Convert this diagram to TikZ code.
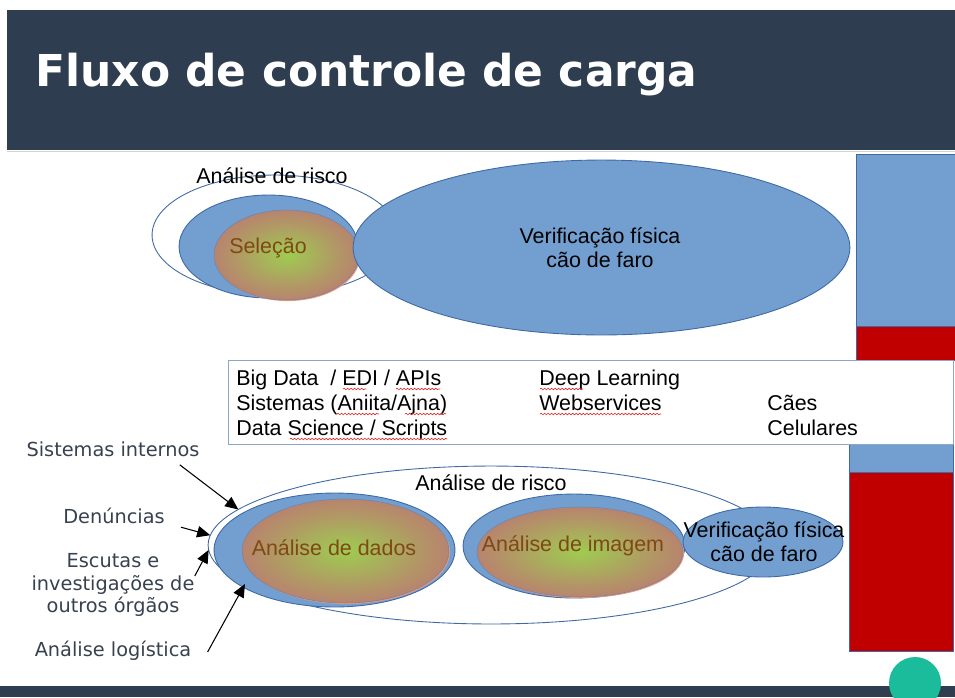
\documentclass[tikz,border=0pt]{standalone}
\usepackage{fontspec}
\setmainfont{Liberation Sans}
\newfontfamily\djv{DejaVu Sans}
\usetikzlibrary{shapes.geometric,arrows.meta,shadows,decorations.pathmorphing}
\definecolor{barcol}{RGB}{46,62,80}
\definecolor{lofill}{RGB}{114,159,207}
\definecolor{loline}{RGB}{62,105,165}
\definecolor{lored}{RGB}{192,0,0}
\definecolor{labcol}{RGB}{55,65,80}
\definecolor{gradin}{RGB}{158,204,80}
\definecolor{gradmid}{RGB}{178,150,102}
\definecolor{gradout}{RGB}{192,106,122}
\definecolor{gradtxt}{RGB}{128,72,22}
\definecolor{glowrim}{RGB}{240,150,110}
\definecolor{tealdot}{RGB}{26,188,156}
\definecolor{boxline}{RGB}{140,165,200}
\definecolor{spellred}{RGB}{230,40,40}
\pgfdeclareradialshading{cellglow}{\pgfpoint{0bp}{0bp}}{color(0bp)=(gradin); color(18bp)=(gradmid); color(35bp)=(gradout); color(100bp)=(gradout)}
\tikzset{
  ell/.style 2 args={ellipse,inner sep=0pt,outer sep=0pt,minimum width={#1*0.04cm},minimum height={#2*0.04cm}},
  bluecell/.style={fill=lofill,draw=loline,line width=0.5pt},
  glowcell/.style={shading=cellglow,draw=loline!80,line width=0.3pt,
    drop shadow={shadow xshift=0.6pt,shadow yshift=-0.6pt,fill=glowrim,opacity=1}},
  ring/.style={draw=loline,line width=0.5pt},
  txt/.style={font=\fontsize{12.2}{13.7}\selectfont,align=center,inner sep=0pt},
  glowtxt/.style={txt,text=gradtxt},
  techtxt/.style={font=\fontsize{12.2}{14.2}\selectfont,inner sep=0pt,anchor=base west},
  side/.style={font=\djv\fontsize{11}{12.8}\selectfont,text=labcol,align=center,inner sep=0pt},
  feed/.style={-{Triangle[length=7.5pt,width=6.5pt]},line width=0.6pt},
  spell/.style={draw=spellred,line width=0.35pt,decorate,decoration={snake,amplitude=0.45pt,segment length=2pt}},
}
\begin{document}
\begin{tikzpicture}[x=0.02cm,y=-0.02cm]
  \useasboundingbox (0,0) rectangle (955,697);
  % title bar
  \fill[barcol] (7,10) rectangle (955,150);
  \draw[gray!35,line width=0.5pt] (7,151) -- (955,151);
  \node[anchor=base west,inner sep=0pt,text=white,font=\djv\bfseries\fontsize{25}{30}\selectfont] (title) at (35,86) {Fluxo de controle de carga};
  % upper group
  \node[ell={123}{60},ring] (riscoA) at (275,235) {};
  \node[ell={89.5}{51.5},bluecell] (selblue) at (268.5,246.5) {};
  \node[ell={72.5}{45},glowcell] (selglow) at (286.5,255) {};
  \node[ell={248.5}{87.5},bluecell] (verifA) at (601.5,247.5) {};
  \node[txt] (riscoAtxt) at (272,176) {Análise de risco};
  \node[glowtxt] (seltxt) at (268,248) {Seleção};
  \node[txt] (verifAtxt) at (600,248) {Verificação física\\cão de faro};
  % bars on the right
  \filldraw[fill=lofill,draw=loline,line width=0.5pt] (856,154) rectangle (956,326);
  \filldraw[fill=lored,draw=loline,line width=0.5pt] (856,326) rectangle (956,360);
  \filldraw[fill=lofill,draw=loline,line width=0.5pt] (849,444) rectangle (953,472);
  \filldraw[fill=lored,draw=loline,line width=0.5pt] (849,472) rectangle (953,651);
  % tools box
  \node[draw=boxline,fill=white,line width=0.6pt,inner sep=0pt,anchor=north west,
    minimum width=14.5cm,minimum height=1.68cm] (techbox) at (228,360) {};
  \foreach \t/\x/\y [count=\i] in {{Big Data~ / EDI / APIs}/236/385,{Sistemas (Aniita/Ajna)}/236/410,
      {Data Science / Scripts}/236/435,{Deep Learning}/539/385,Webservices/539/410,Cães/767/410,Celulares/767/435}
    \node[techtxt] (tech\i) at (\x,\y) {\t};
  % spelling marks
  \foreach \a/\b/\y in {343/366/389,396/440/389,337/379/414,405/446/414,290/447/439,540/583/389,540/661/414}
    \draw[spell] (\a,\y) -- (\b,\y);
  % lower group
  \node[ell={283}{79},ring] (riscoB) at (491,545) {};
  \node[ell={120.5}{57},bluecell] (dadosblue) at (334.5,550) {};
  \node[ell={103.5}{52},glowcell] (dadosglow) at (345.5,551) {};
  \node[ell={111}{52},bluecell] (imgblue) at (574,546) {};
  \node[ell={103}{45},glowcell] (imgglow) at (580,552) {};
  \node[ell={80}{35},bluecell] (verifB) at (763,542) {};
  \node[txt] (riscoBtxt) at (491,483) {Análise de risco};
  \node[glowtxt] (dadostxt) at (334,548) {Análise de dados};
  \node[glowtxt] (imgtxt) at (573,546) {Análise de imagem};
  \node[txt] (verifBtxt) at (764,542) {Verificação física\\cão de faro};
  % sources
  \node[side] (sisint) at (113,449) {Sistemas internos};
  \node[side] (denun) at (114,516) {Denúncias};
  \node[side] (escut) at (113,585) {Escutas e\\investigações de\\outros órgãos};
  \node[side] (logist) at (113,651) {Análise logística};
  \draw[feed] ([shift={(-20,8)}]sisint.south east) -- (riscoB.172.7);
  \draw[feed] ([shift={(16,3)}]denun.south east) -- (riscoB.178);
  \draw[feed] ([shift={(0,-9)}]escut.east) -- (riscoB.181.7);
  \draw[feed] ([shift={(16,1)}]logist.east) -- (riscoB.189.3);
  % footer
  \fill[barcol] (0,686) rectangle (955,697);
  \fill[tealdot] (915,683) circle[radius=0.52cm];
\end{tikzpicture}
\end{document}
